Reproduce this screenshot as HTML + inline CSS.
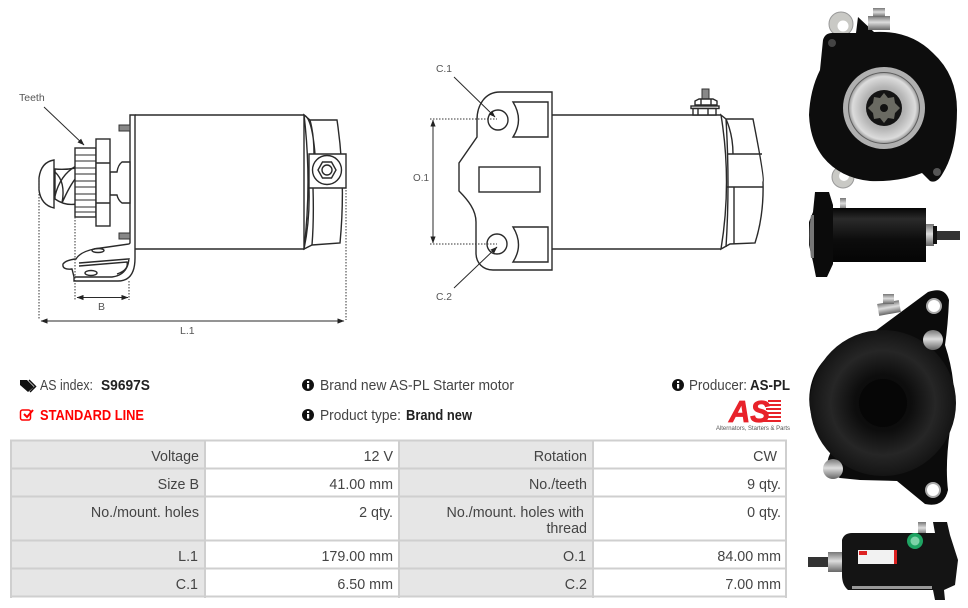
<!DOCTYPE html>
<html><head><meta charset="utf-8"><style>
html,body{margin:0;padding:0;background:#fff}
svg{display:block}
text{font-family:"Liberation Sans",sans-serif}
.t{font-size:14.3px;fill:#444;text-anchor:end}
.h{font-size:14.5px;fill:#444}
.b{font-size:14.5px;font-weight:bold;fill:#222}
.d{font-size:10.5px;fill:#555}
.l{fill:none;stroke:#2a2a2a;stroke-width:1.4}
.w{fill:#fff;stroke:#2a2a2a;stroke-width:1.4}
.dot{fill:none;stroke:#333;stroke-width:1;stroke-dasharray:1.5 1.5}
</style></head><body>
<svg width="968" height="608" viewBox="0 0 968 608" xmlns="http://www.w3.org/2000/svg">
<defs>
<marker id="a" viewBox="0 0 8 6" refX="7.5" refY="3" markerWidth="7" markerHeight="5.500" orient="auto-start-reverse"><path d="M0 0L8 3L0 6Z" fill="#222"/></marker>
<radialGradient id="disc" cx="50%" cy="50%" r="55%"><stop offset="0" stop-color="#0a0a0a"/><stop offset=".35" stop-color="#0d0d0d"/><stop offset=".65" stop-color="#262626"/><stop offset="1" stop-color="#0e0e0e"/></radialGradient>
<radialGradient id="ring"><stop offset="0" stop-color="#8a8a8a"/><stop offset=".6" stop-color="#b5b5b5"/><stop offset=".9" stop-color="#dcdcdc"/><stop offset="1" stop-color="#a0a0a0"/></radialGradient>
<linearGradient id="body" x1="0" y1="0" x2="0" y2="1"><stop offset="0" stop-color="#050505"/><stop offset=".2" stop-color="#2a2a2a"/><stop offset=".6" stop-color="#0c0c0c"/><stop offset="1" stop-color="#050505"/></linearGradient>
<linearGradient id="silver" x1="0" y1="0" x2="0" y2="1"><stop offset="0" stop-color="#777"/><stop offset=".45" stop-color="#ddd"/><stop offset="1" stop-color="#666"/></linearGradient>
</defs>

<!-- left drawing -->
<g>
<path class="l" d="M135 115H304V249H135"/>
<path class="w" d="M304 115L310 120H337Q346 180 340 243L312 245L304 249Q312 182 304 115Z"/>
<path class="l" d="M304 115Q312 118 315 154M309 188Q310 220 304 249M313 188Q314 220 312 245M310 120Q314 135 314 154"/>
<path class="w" d="M309 154H346V188H309Z"/>
<circle class="l" cx="327" cy="170" r="14.5"/>
<path class="l" d="M318 170L322.500 162H331.500L336 170L331.500 178H322.500Z"/>
<circle class="l" cx="327" cy="170" r="5"/>
<path class="w" d="M130 115H135V258Q135 281 118 281H74V277L72 269Q62 270 63 264Q66 260 76 259Q80 252 94 249L129 244L130 243Z"/>
<path class="l" d="M79 263L128 259M79 266L127 262Q129 270 117 274M75 277H112Q128 275 129 258"/>
<ellipse class="l" cx="98" cy="250.500" rx="6" ry="2"/>
<ellipse class="l" cx="91" cy="273" rx="6" ry="2.500"/>
<rect x="119" y="125" width="11" height="6" fill="#888" stroke="#333"/>
<rect x="119" y="233" width="11" height="6" fill="#888" stroke="#333"/>
<path class="w" d="M130 162H122Q118 165 117 172H110V195H117Q118 200 122 203H130Z"/>
<path class="w" d="M55 169Q65 170 76 168V204Q65 206 55 199Z"/>
<path class="l" d="M55 196Q60 175 76 166M62 203Q70 185 76 178M55 172Q66 182 62 203"/>
<path class="w" d="M39 178Q41 162 54 160V208Q41 205 39 190Z"/>
<rect class="w" x="75" y="148" width="21" height="69"/>
<path class="l" style="stroke-width:1" d="M75 155H96M75 161H96M75 168H96M75 174H96M75 181H96M75 187H96M75 194H96M75 200H96M75 207H96M75 212H96"/>
<rect class="w" x="96" y="139" width="14" height="87"/>
<path class="l" d="M96 163H110M96 203H110"/>
<path class="dot" d="M39 176V320M346 190V320M75 217V300M129 281V300"/>
<path class="l" style="stroke-width:1" d="M77 297.500H128" marker-start="url(#a)" marker-end="url(#a)"/>
<path class="l" style="stroke-width:1" d="M41 321H344" marker-start="url(#a)" marker-end="url(#a)"/>
<path class="l" style="stroke-width:1" d="M44 107L84 145" marker-end="url(#a)"/>
<text class="d" x="19" y="101">Teeth</text>
<text class="d" x="98" y="310">B</text>
<text class="d" x="180" y="334">L.1</text>
</g>

<!-- centre drawing -->
<g>
<path class="l" d="M552 115H721M552 249H721"/>
<path class="w" d="M721 115L726 119H753Q765 180 763 182Q764 215 755 243L730 244L721 249Q732 182 721 115Z"/>
<path class="l" d="M726 119Q733 135 733 154M727 154H762M727 187H763M734 187V244M726 119Q730 185 726 247"/>
<path class="w" d="M552 92H500C485 92 477 105 477 120V137L459 163V191C468 200 476 210 476 222V253C476 263 483 270 493 270H552Z"/>
<path class="l" d="M513 102H548V137H513Q524 120 513 102Z"/>
<path class="l" d="M513 227H548V262H513Q524 245 513 227Z"/>
<rect class="l" x="479" y="167" width="61" height="25"/>
<circle class="l" cx="498" cy="120" r="10"/>
<circle class="l" cx="497" cy="244" r="10"/>
<rect x="702" y="89" width="7" height="10" fill="#888" stroke="#333"/>
<path class="w" d="M695 105V101L699 99H713L717 101V105Z"/>
<rect class="w" x="691" y="106" width="28" height="2.500"/>
<path class="w" d="M693 108.500H716V115H693Z"/>
<path class="l" d="M698 108.500V115M708 108.500V115M701 99V105M711 99V105"/>
<path class="dot" d="M430 119H497M430 244H497"/>
<path class="l" style="stroke-width:1" d="M433 120V243" marker-start="url(#a)" marker-end="url(#a)"/>
<path class="l" style="stroke-width:1" d="M454 77L495 117" marker-end="url(#a)"/>
<path class="l" style="stroke-width:1" d="M454 288L497 247" marker-end="url(#a)"/>
<text class="d" x="436" y="72" textLength="16" lengthAdjust="spacingAndGlyphs">C.1</text>
<text class="d" x="413" y="181" textLength="16" lengthAdjust="spacingAndGlyphs">O.1</text>
<text class="d" x="436" y="300" textLength="16" lengthAdjust="spacingAndGlyphs">C.2</text>
</g>

<!-- photo 1 -->
<g>
<circle cx="841" cy="24" r="12" fill="#c9c9c5" stroke="#999"/>
<circle cx="843" cy="26" r="5.500" fill="#fff"/>
<circle cx="843" cy="177" r="11" fill="#c9c9c5" stroke="#999"/>
<circle cx="844" cy="176" r="5" fill="#fff"/>
<path d="M823 40Q825 33 832 33L856 33L858 17L874 32Q910 30 933 53Q957 75 957 110Q957 150 943 173Q937 184 930 181L922 173Q900 182 870 181Q840 178 823 157Q810 140 809 115Q810 90 820 70Z" fill="#0d0d0d"/>
<rect x="868" y="16" width="22" height="14" fill="url(#silver)"/>
<rect x="873" y="8" width="12" height="9" fill="url(#silver)"/>
<circle cx="884" cy="108" r="41" fill="#b0b0b0"/>
<circle cx="884" cy="108" r="36" fill="#5c5c5c"/>
<circle cx="884" cy="108" r="35" fill="url(#ring)"/>
<circle cx="884" cy="108" r="18" fill="#141414"/>
<polygon points="884,93 888,98 894,97 895,103 900,108 895,113 894,119 888,118 884,123 880,118 874,119 873,113 868,108 873,103 874,97 880,98" fill="#6a6a62"/>
<circle cx="884" cy="108" r="4" fill="#111"/>
<circle cx="832" cy="43" r="4" fill="#444"/>
<circle cx="937" cy="172" r="4" fill="#555"/>
</g>

<!-- photo 2 -->
<g>
<rect x="840" y="198" width="6" height="12" fill="url(#silver)"/>
<path d="M815 192H829L833 205V264L827 277H816L813 262L809 245V222L813 212Z" fill="#0b0b0b"/>
<path d="M811 215Q808 235 811 258L814 258V215Z" fill="#777"/>
<rect x="833" y="208" width="93" height="54" fill="url(#body)"/>
<rect x="926" y="224" width="8" height="22" fill="url(#silver)"/>
<rect x="933" y="226" width="4" height="18" fill="#111"/>
<rect x="937" y="231" width="23" height="9" fill="#333"/>
</g>

<!-- photo 3 -->
<g>
<rect x="878" y="302" width="22" height="12" fill="url(#silver)" transform="rotate(-10 889 308)"/>
<rect x="883" y="294" width="11" height="10" fill="url(#silver)"/>
<path d="M870 335L928 292Q945 286 949 300Q948 325 945 345Q960 390 950 430Q945 465 948 490Q944 508 925 504L897 481L860 480L840 478Q820 470 832 450Q805 420 810 390Q816 350 870 335Z" fill="#0b0b0b"/>
<circle cx="883" cy="403" r="73" fill="url(#disc)"/>
<circle cx="883" cy="403" r="24" fill="#060606"/>
<circle cx="934" cy="306" r="7" fill="#fff" stroke="#aaa" stroke-width="2"/>
<circle cx="933" cy="490" r="7" fill="#fff" stroke="#aaa" stroke-width="2"/>
<circle cx="933" cy="340" r="10" fill="url(#silver)"/>
<circle cx="833" cy="469" r="10" fill="url(#silver)"/>
</g>

<!-- photo 4 -->
<g>
<rect x="808" y="557" width="20" height="10" fill="#333"/>
<rect x="828" y="552" width="14" height="20" fill="url(#silver)"/>
<rect x="918" y="522" width="8" height="13" fill="url(#silver)"/>
<path d="M842 540Q844 533 852 533H935L933 522H947L950 535L958 560L955 585L944 590L945 600H935L933 590H848Q842 585 842 575Z" fill="#141414"/>
<rect x="852" y="586" width="80" height="3" fill="#999"/>
<rect x="858" y="550" width="39" height="14" fill="#f2f2f2"/>
<rect x="859" y="551" width="8" height="4" fill="#d22"/>
<rect x="894" y="550" width="3" height="14" fill="#d22"/>
<circle cx="915" cy="541" r="8" fill="#1fa463"/>
<circle cx="915" cy="541" r="4.500" fill="#7dd3a8"/>
</g>

<!-- header -->
<g>
<path d="M20 380H27L34 387L28 392L20 385Z" fill="#111"/>
<path d="M29 380L35.500 386.500L30 392" fill="none" stroke="#111" stroke-width="1.500"/>
<text class="h" x="40" y="390" textLength="53" lengthAdjust="spacingAndGlyphs">AS index:</text>
<text class="b" x="101" y="390" textLength="49" lengthAdjust="spacingAndGlyphs">S9697S</text>
<rect x="20.500" y="410" width="10" height="10" rx="2" fill="none" stroke="#f00" stroke-width="1.500"/>
<path d="M24 414L27 417L33 410" fill="none" stroke="#f00" stroke-width="2"/>
<text x="40" y="420" font-size="14.500" font-weight="bold" fill="#f00" textLength="104" lengthAdjust="spacingAndGlyphs">STANDARD LINE</text>
<circle cx="308" cy="385" r="6" fill="#111"/>
<rect x="307" y="384" width="2.200" height="4.500" fill="#fff"/><rect x="307" y="381" width="2.200" height="2" fill="#fff"/>
<text class="h" x="320" y="390" textLength="194" lengthAdjust="spacingAndGlyphs">Brand new AS-PL Starter motor</text>
<circle cx="308" cy="415" r="6" fill="#111"/>
<rect x="307" y="414" width="2.200" height="4.500" fill="#fff"/><rect x="307" y="411" width="2.200" height="2" fill="#fff"/>
<text class="h" x="320" y="420" textLength="81" lengthAdjust="spacingAndGlyphs">Product type:</text>
<text class="b" x="406" y="420" textLength="66" lengthAdjust="spacingAndGlyphs">Brand new</text>
<circle cx="678" cy="385" r="6" fill="#111"/>
<rect x="677" y="384" width="2.200" height="4.500" fill="#fff"/><rect x="677" y="381" width="2.200" height="2" fill="#fff"/>
<text class="h" x="689" y="390" textLength="58" lengthAdjust="spacingAndGlyphs">Producer:</text>
<text class="b" x="750" y="390" textLength="40" lengthAdjust="spacingAndGlyphs">AS-PL</text>
<text x="729" y="422" font-size="31" font-weight="bold" font-style="italic" fill="#e8222a" stroke="#e8222a" stroke-width=".8" textLength="41" lengthAdjust="spacingAndGlyphs">AS</text>
<path d="M768 400H781V402H768ZM767 404H781V406H767ZM766 408H781V410H766ZM765 412H781V414H765ZM764 416H781V418H764ZM763 420H781V422H763Z" fill="#e8222a"/>
<text x="716" y="430" font-size="6.500" fill="#555" textLength="74" lengthAdjust="spacingAndGlyphs">Alternators, Starters &amp; Parts</text>
</g>

<!-- table -->
<g>
<rect x="11" y="441" width="193" height="155" fill="#e6e6e6"/>
<rect x="399" y="441" width="193" height="155" fill="#e6e6e6"/>
<path d="M10 440.500H787M10 468.500H787M10 496.500H787M10 540.500H787M10 568.500H787M10 596.500H787" stroke="#cfcfcf" stroke-width="2" fill="none"/>
<path d="M11 440V598M205 440V598M399 440V598M593 440V598M786 440V598" stroke="#cfcfcf" stroke-width="2" fill="none"/>
<text class="t" x="199" y="461">Voltage</text><text class="t" x="393" y="461">12 V</text>
<text class="t" x="587" y="461">Rotation</text><text class="t" x="777" y="461">CW</text>
<text class="t" x="199" y="489">Size B</text><text class="t" x="393" y="489">41.00 mm</text>
<text class="t" x="587" y="489">No./teeth</text><text class="t" x="781" y="489">9 qty.</text>
<text class="t" x="199" y="517">No./mount. holes</text><text class="t" x="393" y="517">2 qty.</text>
<text class="t" x="584" y="517">No./mount. holes with</text><text class="t" x="587" y="533">thread</text><text class="t" x="781" y="517">0 qty.</text>
<text class="t" x="198" y="561">L.1</text><text class="t" x="393" y="561">179.00 mm</text>
<text class="t" x="586" y="561">O.1</text><text class="t" x="781" y="561">84.00 mm</text>
<text class="t" x="198" y="589">C.1</text><text class="t" x="393" y="589">6.50 mm</text>
<text class="t" x="587" y="589">C.2</text><text class="t" x="781" y="589">7.00 mm</text>
</g>
</svg>
</body></html>
